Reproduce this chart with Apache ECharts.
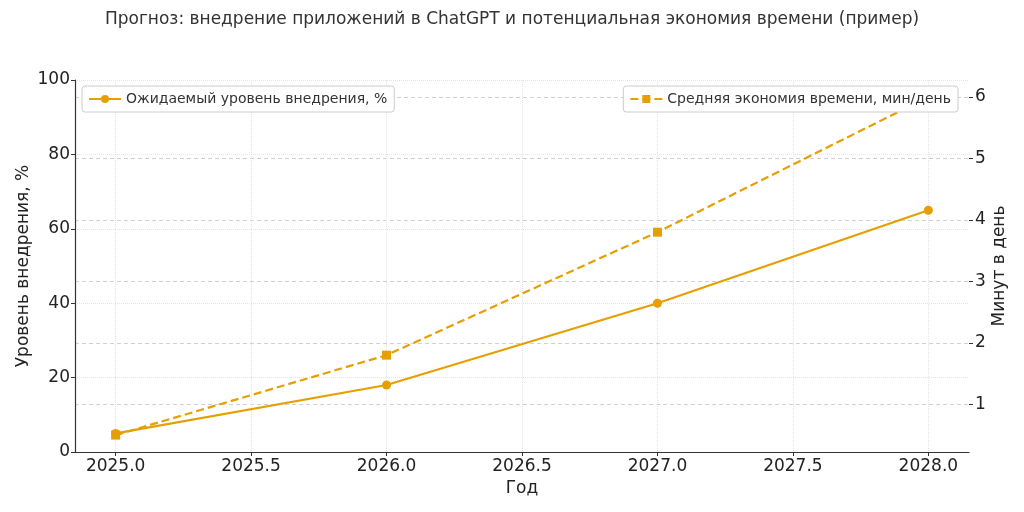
<!DOCTYPE html>
<html><head><meta charset="utf-8">
<script src="https://cdn.jsdelivr.net/npm/echarts@6/dist/echarts.min.js"></script>
<style>html,body{margin:0;padding:0;background:#fff}#c{width:1024px;height:512px}</style>
</head><body><div id="c"></div>
<script>
const years = [2025, 2026, 2027, 2028];
const adoption = [5, 18, 40, 65];
const savings = [0.5, 1.8, 3.8, 6.0];
const xTicks = [2025, 2025.5, 2026, 2026.5, 2027, 2027.5, 2028];
const rightTicks = [1, 2, 3, 4, 5, 6];
const color = '#E69F00';
const font = 'DejaVu Sans';

const chart = echarts.init(document.getElementById('c'), null, {renderer: 'canvas'});
chart.setOption({
  animation: false,
  textStyle: {fontFamily: font},
  title: {
    text: 'Прогноз: внедрение приложений в ChatGPT и потенциальная экономия времени (пример)',
    left: 'center', top: 6,
    textStyle: {fontFamily: font, fontSize: 17, fontWeight: 'normal', color: '#333'}
  },
  grid: {left: 75, right: 55, top: 80, bottom: 60},
  legend: [
    {
      data: ['Ожидаемый уровень внедрения, %'],
      left: 82, top: 86,
      backgroundColor: '#fff', borderColor: '#ccc', borderWidth: 1, borderRadius: 3,
      padding: [6, 7, 6, 6], itemWidth: 32, itemHeight: 10,
      textStyle: {fontFamily: font, fontSize: 14, color: '#333'}
    },
    {
      data: ['Средняя экономия времени, мин/день'],
      right: 66, top: 86,
      backgroundColor: '#fff', borderColor: '#ccc', borderWidth: 1, borderRadius: 3,
      padding: [6, 7, 6, 6], itemWidth: 32, itemHeight: 10,
      textStyle: {fontFamily: font, fontSize: 14, color: '#333'}
    }
  ],
  xAxis: {
    type: 'value', min: 2024.85, max: 2028.15,
    name: 'Год', nameLocation: 'middle', nameGap: 28, nameMoveOverlap: false,
    nameTextStyle: {fontFamily: font, fontSize: 17, color: '#222'},
    axisLine: {show: true, lineStyle: {color: '#333', width: 1.2}},
    axisTick: {show: true, length: 4, lineStyle: {color: '#333'}, customValues: xTicks},
    axisLabel: {customValues: xTicks, fontFamily: font, fontSize: 17, color: '#222', margin: 6,
      formatter: v => v.toFixed(1)},
    splitLine: {show: true, lineStyle: {color: '#e3e3e3', type: 'dotted', width: 1}}
  },
  yAxis: [
    {
      type: 'value', min: 0, max: 100, interval: 20, position: 'left',
      name: 'Уровень внедрения, %', nameLocation: 'middle', nameGap: 43, nameMoveOverlap: false,
      nameTextStyle: {fontFamily: font, fontSize: 17, color: '#222'},
      axisLine: {show: true, lineStyle: {color: '#333', width: 1.2}},
      axisTick: {show: true, length: 4, lineStyle: {color: '#333'}},
      axisLabel: {fontFamily: font, fontSize: 17, color: '#222', margin: 5},
      splitLine: {show: true, lineStyle: {color: '#e3e3e3', type: 'dotted', width: 1}}
    },
    {
      type: 'value', min: 0.225, max: 6.275, position: 'right',
      name: 'Минут в день', nameLocation: 'middle', nameGap: 22, nameRotate: 90, nameMoveOverlap: false,
      nameTextStyle: {fontFamily: font, fontSize: 17, color: '#222'},
      axisLine: {show: false},
      axisTick: {show: true, length: 4, lineStyle: {color: '#333'}, customValues: rightTicks},
      axisLabel: {customValues: rightTicks, fontFamily: font, fontSize: 17, color: '#222', margin: 6},
      splitLine: {show: true, lineStyle: {color: '#d0d0d0', type: [4, 3], width: 1}}
    }
  ],
  series: [
    {
      name: 'Ожидаемый уровень внедрения, %', type: 'line', yAxisIndex: 0,
      data: years.map((y, i) => [y, adoption[i]]),
      symbol: 'circle', symbolSize: 9,
      lineStyle: {color: color, width: 2.2},
      itemStyle: {color: color}
    },
    {
      name: 'Средняя экономия времени, мин/день', type: 'line', yAxisIndex: 1,
      data: years.map((y, i) => [y, savings[i]]),
      symbol: 'rect', symbolSize: 9,
      lineStyle: {color: color, width: 2.2, type: [8, 4]},
      itemStyle: {color: color}
    }
  ]
});
</script></body></html>
